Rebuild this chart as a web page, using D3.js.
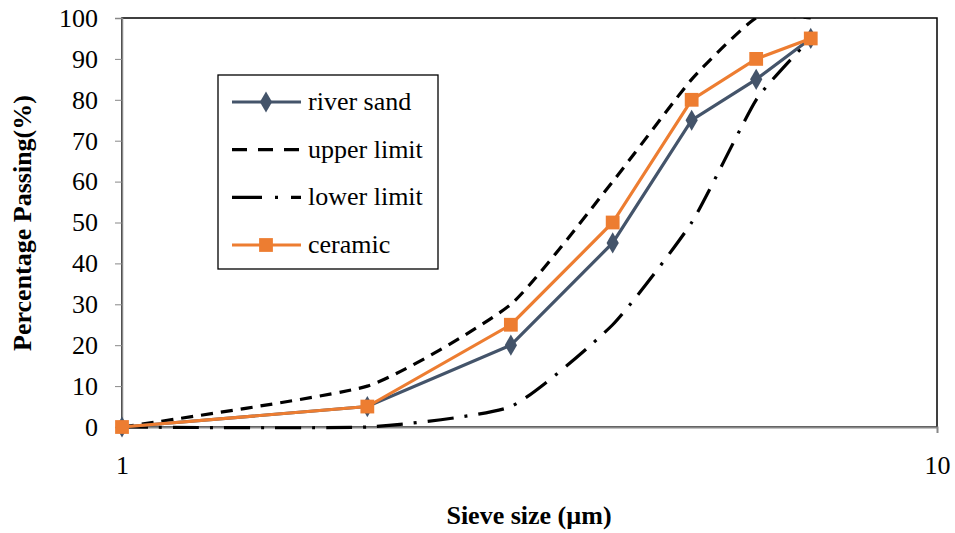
<!DOCTYPE html>
<html>
<head>
<meta charset="utf-8">
<script src="https://cdn.jsdelivr.net/npm/d3@7"></script>
<style>
  body { margin: 0; background: #fff; }
</style>
</head>
<body>
<svg id="chart" width="955" height="533"></svg>
<script>
// sieve sizes and % passing
const sieveSizes = [1, 2, 3, 4, 5, 6, 7];
const riverSand = [0, 5, 20, 45, 75, 85, 95];
const upperLimit = [0, 10, 30, 60, 85, 100, 100];
const lowerLimit = [0, 0, 5, 25, 50, 80, 95];
const ceramic = [0, 5, 25, 50, 80, 90, 95];
const yTicks = [0, 10, 20, 30, 40, 50, 60, 70, 80, 90, 100];
const xTicks = [1, 10];

const FONT = "'Liberation Serif', 'Times New Roman', serif";
const svg = d3.select("#chart");
const plotLeft = 122, plotRight = 937, plotTop = 18, plotBottom = 427;

const x = d3.scaleLog().domain([1, 10]).range([plotLeft, plotRight]);
const y = d3.scaleLinear().domain([0, 100]).range([plotBottom, plotTop]);

// plot frame (black top/right)
svg.append("rect")
    .attr("x", plotLeft).attr("y", plotTop)
    .attr("width", plotRight - plotLeft).attr("height", plotBottom - plotTop)
    .attr("fill", "none").attr("stroke", "#000").attr("stroke-width", 1.5);

// y axis
const yAxis = svg.append("g")
    .attr("transform", `translate(${plotLeft},0)`)
    .call(d3.axisLeft(y).tickValues(yTicks).tickSize(7).tickPadding(17));
yAxis.select(".domain").attr("stroke", "#888").attr("stroke-width", 1.5);
yAxis.selectAll(".tick line").attr("stroke", "#888");
yAxis.selectAll(".tick text").attr("font-size", 26).attr("fill", "#000")
    .style("font-family", FONT);

// x axis
const xAxis = svg.append("g")
    .attr("transform", `translate(0,${plotBottom})`)
    .call(d3.axisBottom(x).tickValues(xTicks).tickFormat(d3.format("d")).tickSize(6).tickPadding(23));
xAxis.select(".domain").attr("stroke", "#888").attr("stroke-width", 2);
xAxis.selectAll(".tick line").attr("stroke", "#888");
xAxis.selectAll(".tick text").attr("font-size", 26).attr("fill", "#000")
    .style("font-family", FONT);

// axis titles
svg.append("text")
    .attr("x", 529).attr("y", 524)
    .attr("text-anchor", "middle")
    .attr("font-size", 26).attr("font-weight", "bold")
    .style("font-family", FONT)
    .text("Sieve size (µm)");

svg.append("text")
    .attr("transform", "translate(31,223) rotate(-90)")
    .attr("text-anchor", "middle")
    .attr("font-size", 26).attr("font-weight", "bold")
    .style("font-family", FONT)
    .text("Percentage Passing(%)");

const series = [
    { name: "river sand", values: riverSand, color: "#44546A", dash: null, legendDash: null, marker: "diamond", smooth: false },
    { name: "upper limit", values: upperLimit, color: "#000", dash: "12,8", legendDash: "15,11", marker: null, smooth: true },
    { name: "lower limit", values: lowerLimit, color: "#000", dash: "26,11,3,11", legendDash: "30,13,3,13", marker: null, smooth: true },
    { name: "ceramic", values: ceramic, color: "#ED7D31", dash: null, legendDash: null, marker: "square", smooth: false }
];

function markerPath(type) {
    return type === "diamond"
        ? d3.symbol().type(d3.symbolDiamond).size(130)()
        : d3.symbol().type(d3.symbolSquare).size(190)();
}

svg.append("clipPath").attr("id", "plot-clip")
    .append("rect")
    .attr("x", plotLeft - 10).attr("y", plotTop)
    .attr("width", plotRight - plotLeft + 10).attr("height", plotBottom - plotTop + 10);

const plot = svg.append("g");

// draw limits first, then data series on top
const drawOrder = [series[1], series[2], series[0], series[3]];
drawOrder.forEach(s => {
    const pts = sieveSizes.map((v, i) => [v, s.values[i]]);
    const line = d3.line()
        .x(d => x(d[0]))
        .y(d => y(d[1]))
        .curve(s.smooth ? d3.curveCardinal.tension(0.5) : d3.curveLinear);
    plot.append("path")
        .datum(pts)
        .attr("d", line)
        .attr("clip-path", s.smooth ? "url(#plot-clip)" : null)
        .attr("fill", "none")
        .attr("stroke", s.color)
        .attr("stroke-width", 3.2)
        .attr("stroke-dasharray", s.dash);

    if (s.marker) {
        plot.selectAll(null)
            .data(pts)
            .join("path")
            .attr("transform", d => `translate(${x(d[0])},${y(d[1])})`)
            .attr("d", markerPath(s.marker))
            .attr("fill", s.color);
    }
});

// legend
const legend = svg.append("g");
legend.append("rect")
    .attr("x", 218).attr("y", 75)
    .attr("width", 220).attr("height", 194)
    .attr("fill", "#fff").attr("stroke", "#000").attr("stroke-width", 1.3);

const legendY = d3.scalePoint().domain(series.map(s => s.name)).range([102, 245]);
series.forEach(s => {
    const ly = legendY(s.name);
    legend.append("line")
        .attr("x1", 232).attr("x2", 301)
        .attr("y1", ly).attr("y2", ly)
        .attr("stroke", s.color).attr("stroke-width", 3.2)
        .attr("stroke-dasharray", s.legendDash);
    if (s.marker) {
        legend.append("path")
            .attr("transform", `translate(266,${ly})`)
            .attr("d", markerPath(s.marker))
            .attr("fill", s.color);
    }
    legend.append("text")
        .attr("x", 308).attr("y", ly + 8)
        .attr("font-size", 26)
        .style("font-family", FONT)
        .text(s.name);
});
</script>
</body>
</html>
